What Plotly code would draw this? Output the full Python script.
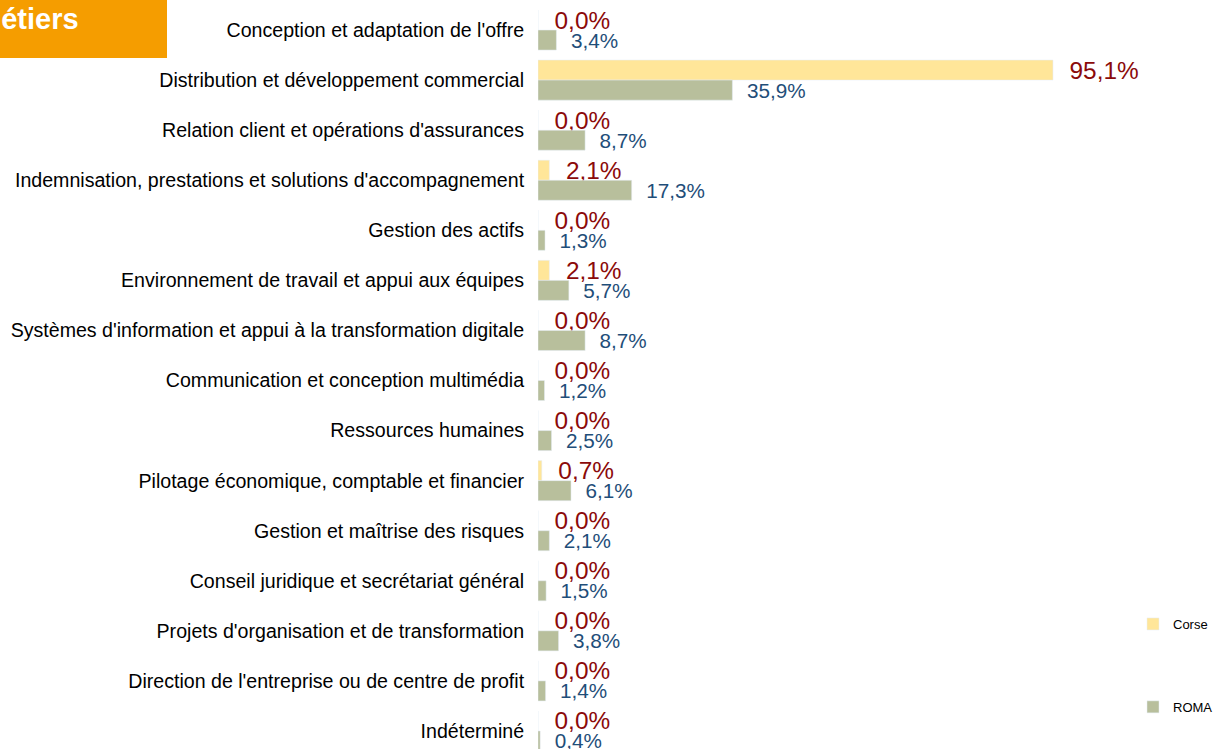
import plotly.graph_objects as go

categories = [
    "Conception et adaptation de l'offre",
    "Distribution et développement commercial",
    "Relation client et opérations d'assurances",
    "Indemnisation, prestations et solutions d'accompagnement",
    "Gestion des actifs",
    "Environnement de travail et appui aux équipes",
    "Systèmes d'information et appui à la transformation digitale",
    "Communication et conception multimédia",
    "Ressources humaines",
    "Pilotage économique, comptable et financier",
    "Gestion et maîtrise des risques",
    "Conseil juridique et secrétariat général",
    "Projets d'organisation et de transformation",
    "Direction de l'entreprise ou de centre de profit",
    "Indéterminé",
]
corse = [0.0, 95.1, 0.0, 2.1, 0.0, 2.1, 0.0, 0.0, 0.0, 0.7, 0.0, 0.0, 0.0, 0.0, 0.0]
roma = [3.4, 35.9, 8.7, 17.3, 1.3, 5.7, 8.7, 1.2, 2.5, 6.1, 2.1, 1.5, 3.8, 1.4, 0.4]
series_names = ["Corse", "ROMA"]
title_text = "Métiers"

FONT = "Liberation Sans, Arial, sans-serif"

def fmt(v):
    return "\u00a0\u00a0" + f"{v:.1f}".replace(".", ",") + "%"

fig = go.Figure()
fig.add_trace(go.Bar(
    name=series_names[0], y=categories, x=corse, orientation="h",
    marker=dict(color="#FFE699"),
    text=[fmt(v) for v in corse], textposition="outside",
    textfont=dict(color="#8B0A0A", size=24.4, family=FONT),
    constraintext="none", cliponaxis=False, legendgroup="a",
))
fig.add_trace(go.Bar(
    name=series_names[1], y=categories, x=roma, orientation="h",
    marker=dict(color="#B8BF9C"),
    text=[fmt(v) for v in roma], textposition="outside",
    textfont=dict(color="#1F4E79", size=20.7, family=FONT),
    constraintext="none", cliponaxis=False, legendgroup="b",
))

W, H = 1219, 749
L, R, T, B = 538, 0, 5, 0
pw = W - L - R
ph = H - T - B

fig.update_layout(
    width=W, height=H,
    margin=dict(l=L, r=R, t=T, b=B, autoexpand=False),
    barmode="group", bargap=0.2, bargroupgap=0.0,
    plot_bgcolor="white", paper_bgcolor="white",
    font=dict(family=FONT, color="#000000"),
    showlegend=True,
    legend=dict(x=(1133 - L) / pw, y=1 - (609 - T) / ph, xanchor="left", yanchor="top",
                font=dict(size=13, color="#000000"), tracegroupgap=63,
                traceorder="grouped", itemwidth=30, bgcolor="rgba(0,0,0,0)"),
    xaxis=dict(range=[0, pw / 5.415], visible=False, showgrid=False, zeroline=False),
    yaxis=dict(range=[14.36, -0.5], showgrid=False, zeroline=False, showline=False,
               ticks="outside", ticklen=9, tickcolor="rgba(0,0,0,0)",
               tickfont=dict(size=19.6, color="#000000", family=FONT), automargin=False),
)

fig.add_shape(type="rect", xref="paper", yref="paper",
              x0=(-5 - L) / pw, x1=(167 - L) / pw,
              y0=1 - (58 - T) / ph, y1=1 + (T + 5) / ph,
              fillcolor="#F59D00", line=dict(width=0), layer="above")
fig.add_annotation(xref="paper", yref="paper", x=(81 - L) / pw, y=1 - (19 - T) / ph,
                   xanchor="right", yanchor="middle", showarrow=False,
                   text="<b>" + title_text + "</b>",
                   font=dict(size=29, color="white", family=FONT))

fig.write_html("out.html", config={"displayModeBar": False},
               post_script="document.body.style.margin='0px';document.body.style.overflow='hidden';")
